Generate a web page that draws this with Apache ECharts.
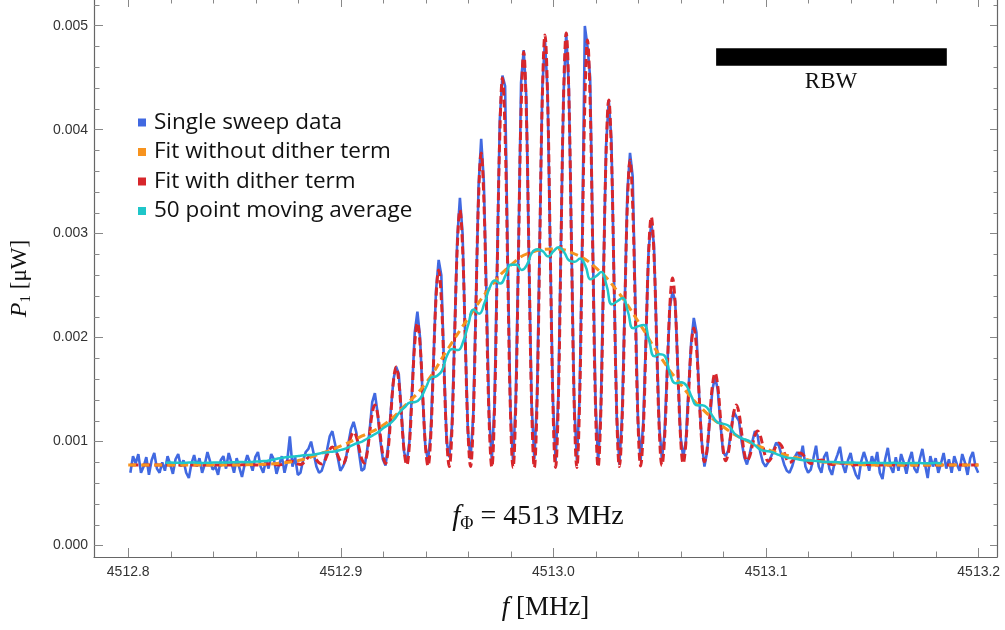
<!DOCTYPE html>
<html><head><meta charset="utf-8">
<script src="https://cdn.jsdelivr.net/npm/echarts@6/dist/echarts.min.js"></script>
<style>html,body{margin:0;padding:0;background:#fff}#c{width:1005px;height:630px}</style>
</head><body><div id="c"></div>
<script>
// all power values below are in units of 1e-6 µW
const UNIT = 1e-6;

// single sweep: uniform frequency sweep
const sweepStart = 4512.801, sweepStep = 0.00125;
const sweepData = [
700,860,790,880,700,760,850,680,
820,890,740,700,800,720,860,780,
690,830,880,760,820,700,650,790,
870,760,840,700,780,900,810,730,
760,680,820,860,740,890,800,700,
840,750,660,780,870,800,720,850,
900,760,700,820,740,880,830,690,
780,860,700,810,1050,760,850,680,
700,820,900,930,1000,880,760,700,
720,800,920,1050,1100,980,850,720,
760,820,980,1120,1190,1090,900,720,
740,900,1100,1380,1465,1280,1020,830,
770,960,1300,1600,1720,1650,1280,900,
800,1000,1500,2050,2249,2000,1420,950,
820,1080,1750,2450,2747,2600,1750,1000,
850,1150,2050,2950,3343,3000,2000,1100,
830,1250,2300,3450,3911,3500,2400,1250,
820,1350,2700,4100,4520,4420,2750,1300,
800,1400,2800,4450,4766,4300,2700,1350,
830,1400,2900,4400,4862,4350,2800,1400,
810,1420,2900,4350,4930,4400,2850,1380,
820,1400,2900,4997,4800,4500,2900,1400,
800,1300,2600,3850,4285,3900,2550,1250,
780,1250,2300,3400,3776,3550,2350,1200,
820,1200,2000,2850,3101,2900,2000,1150,
830,1080,1700,2300,2442,2350,1700,1050,
850,1000,1500,1950,2189,2050,1450,1000,
760,900,1200,1500,1620,1500,1180,900,
860,920,1100,1288,1240,1200,1000,850,
780,880,1000,1100,1060,900,800,760,
800,850,920,990,960,870,780,720,
700,760,850,900,830,960,760,700,
730,840,960,760,700,850,900,740,
680,800,870,950,780,700,820,890,
760,680,640,810,900,820,720,860,
780,900,700,640,830,940,760,700,
850,720,880,800,690,820,900,740,
700,830,930,780,650,860,760,840,
700,790,890,740,830,700,860,780,
720,880,800,680,840,900,760,700
];

// fit with dither term, same frequency grid as the sweep
const fitDitherData = [
775,775,775,775,775,775,775,775,
775,775,775,775,775,775,775,775,
775,775,775,775,775,775,775,775,
775,775,775,775,775,775,775,775,
775,775,775,775,775,775,775,775,
775,775,777,778,778,778,777,775,
775,776,780,784,785,784,780,776,
775,781,795,808,814,809,797,785,
780,792,821,850,862,851,824,796,
785,809,867,924,948,925,869,813,
790,834,941,1048,1092,1049,944,838,
795,876,1074,1271,1352,1270,1071,872,
790,925,1254,1583,1718,1580,1247,913,
775,974,1458,1942,2141,1940,1453,966,
765,1040,1708,2375,2650,2374,1705,1036,
760,1120,1994,2867,3227,2867,1994,1120,
760,1200,2268,3336,3776,3335,2266,1196,
755,1301,2626,3950,4496,3949,2623,1297,
750,1334,2749,4163,4747,4163,2749,1334,
750,1358,2831,4303,4911,4303,2831,1358,
750,1360,2840,4320,4930,4320,2840,1360,
750,1350,2806,4262,4862,4262,2809,1355,
755,1270,2520,3770,4285,3770,2523,1275,
760,1190,2234,3277,3707,3277,2236,1195,
765,1115,1963,2810,3160,2811,1965,1119,
770,1033,1672,2310,2573,2313,1682,1050,
790,980,1441,1902,2092,1904,1449,993,
805,930,1233,1535,1660,1537,1238,938,
815,893,1084,1274,1352,1274,1084,893,
815,857,959,1060,1102,1059,956,853,
810,836,899,961,987,960,894,827,
800,813,846,878,891,876,841,805,
790,795,807,818,823,817,802,786,
780,782,787,792,794,791,785,778,
775,776,778,779,780,779,778,776,
775,775,775,775,775,775,775,775,
775,775,775,775,775,775,775,775,
775,775,775,775,775,775,775,775,
775,775,775,775,775,775,775,775,
775,775,775,775,775,775,775,775
];

// fit without dither term
const fitNoDitherStart = 4512.80, fitNoDitherStep = 0.01;
const fitNoDitherData = [
775,775,775,775,775,775,780,790,818,881,
958,1054,1160,1343,1564,1881,2189,2477,2698,2823,
2852,2804,2670,2448,2150,1824,1545,1314,1141,1016,
929,867,823,799,785,775,775,775,775,775,775
];

// 50 point moving average
const avgStart = 4512.8175, avgStep = 0.0025;
const movingAvgData = [
797,798,796,795,797,799,797,795,796,799,
800,798,799,802,804,802,803,808,812,814,
822,835,845,851,856,862,868,870,875,886,
895,901,908,920,935,960,985,1000,1030,1060,
1090,1130,1165,1210,1280,1330,1375,1380,1420,1520,
1615,1630,1680,1830,1890,1880,1960,2130,2270,2230,
2330,2480,2550,2520,2600,2700,2700,2650,2700,2820,
2850,2830,2780,2830,2870,2820,2740,2730,2760,2690,
2560,2590,2630,2500,2320,2350,2380,2250,2090,2110,
2120,1970,1820,1840,1820,1640,1560,1570,1540,1430,
1350,1350,1320,1240,1180,1170,1150,1080,1040,1020,
1000,960,920,910,900,880,860,845,840,830,
820,818,815,810,806,804,803,800,798,799,
797,795,796,797,795,793,794,796,794,792,
793,795,793,791,792,794,792
];

// RBW bar (frequency span, level in µW)
const rbwSpan = [4513.0765, 4513.185];
const rbwLevel = 0.004699;

const xMajorTicks = [4512.8, 4512.9, 4513.0, 4513.1, 4513.2];
const xMinorTicks = [4512.82,4512.84,4512.86,4512.88,4512.92,4512.94,4512.96,4512.98,
                     4513.02,4513.04,4513.06,4513.08,4513.12,4513.14,4513.16,4513.18];
const yMajorTicks = [0, 0.001, 0.002, 0.003, 0.004, 0.005];
const yMinorTicks = [0.0002,0.0004,0.0006,0.0008,0.0012,0.0014,0.0016,0.0018,
                     0.0022,0.0024,0.0026,0.0028,0.0032,0.0034,0.0036,0.0038,
                     0.0042,0.0044,0.0046,0.0048,0.0052];
const seriesNames = ['Single sweep data','Fit without dither term','Fit with dither term','50 point moving average'];
const seriesColors = ['#4169e1','#f7931e','#d7262b','#1fc6c9'];

const xMin = 4512.7839, xMax = 4513.2086, yMin = -0.00011, yMax = 0.0052468;

function toPairs(arr, start, step) {
  return arr.map((v, i) => [+(start + i * step).toFixed(5), v * UNIT]);
}

const tickLabelStyle = {fontFamily: 'Liberation Sans, Arial, sans-serif', fontSize: 14, color: '#333'};

function xAx(pos, ticks, len, label, line) {
  return {
    type: 'value', position: pos, min: xMin, max: xMax,
    axisLine: {show: line, onZero: false, lineStyle: {color: '#666', width: 1.2}},
    axisTick: {show: true, inside: true, length: len, customValues: ticks, lineStyle: {color: '#888', width: 1}},
    axisLabel: Object.assign({show: label, customValues: ticks, margin: 8,
      formatter: v => (+v).toFixed(1)}, tickLabelStyle),
    splitLine: {show: false}
  };
}
function yAx(pos, ticks, len, label, line) {
  return {
    type: 'value', position: pos, min: yMin, max: yMax,
    axisLine: {show: line, onZero: false, lineStyle: {color: '#666', width: 1.2}},
    axisTick: {show: true, inside: true, length: len, customValues: ticks, lineStyle: {color: '#888', width: 1}},
    axisLabel: Object.assign({show: label, customValues: ticks, margin: 6,
      formatter: v => (+v).toFixed(3)}, tickLabelStyle),
    splitLine: {show: false}
  };
}

const xAxes = [
  xAx('bottom', xMajorTicks, 9, true, true),
  xAx('bottom', xMinorTicks, 5.5, false, false),
  xAx('top', xMajorTicks, 7, false, false),
  xAx('top', xMinorTicks, 3.5, false, false)
];
xAxes[0].name = '{i|f} [MHz]';
xAxes[0].nameLocation = 'middle';
xAxes[0].nameGap = 37;
xAxes[0].nameTextStyle = {fontFamily: 'Liberation Serif, serif', fontSize: 27, color: '#111',
  rich: {i: {fontStyle: 'italic', fontFamily: 'Liberation Serif, serif', fontSize: 27, color: '#111'}}};

const yAxes = [
  yAx('left', yMajorTicks, 9, true, true),
  yAx('left', yMinorTicks, 5.5, false, false),
  yAx('right', yMajorTicks, 7, false, true),
  yAx('right', yMinorTicks, 3.5, false, false)
];
yAxes[0].name = '{p|P}{s|1}{u| [μW]}';
yAxes[0].nameLocation = 'middle';
yAxes[0].nameGap = 60;
yAxes[0].nameRotate = 90;
yAxes[0].nameTextStyle = {fontFamily: 'Liberation Serif, serif', fontSize: 23, color: '#111',
  rich: {
    p: {fontStyle: 'italic', fontFamily: 'Liberation Serif, serif', fontSize: 24, lineHeight: 28, verticalAlign: 'middle', color: '#111'},
    s: {fontFamily: 'Liberation Serif, serif', fontSize: 15, lineHeight: 15, verticalAlign: 'bottom', color: '#111'},
    u: {fontFamily: 'Liberation Serif, serif', fontSize: 23, lineHeight: 28, verticalAlign: 'middle', color: '#111'}
  }};

function lineSeries(name, data, color, width, dash, z, smooth) {
  return {
    name: name, type: 'line', data: data, xAxisIndex: 0, yAxisIndex: 0,
    showSymbol: false, symbol: 'none', smooth: smooth, z: z, silent: true,
    itemStyle: {color: color},
    lineStyle: {color: color, width: width, type: dash || 'solid', cap: 'butt'}
  };
}

const series = [
  lineSeries(seriesNames[0], toPairs(sweepData, sweepStart, sweepStep), seriesColors[0], 2.6, null, 2, false),
  lineSeries(seriesNames[2], toPairs(fitDitherData, sweepStart, sweepStep), seriesColors[2], 3, [8, 4], 3, 0.4),
  lineSeries(seriesNames[1], toPairs(fitNoDitherData, fitNoDitherStart, fitNoDitherStep), seriesColors[1], 3, [8, 5], 4, 0.5),
  lineSeries(seriesNames[3], toPairs(movingAvgData, avgStart, avgStep), seriesColors[3], 2.5, null, 5, 0.5),
  {
    name: 'RBW', type: 'line', xAxisIndex: 0, yAxisIndex: 0, silent: true, z: 6,
    data: [[rbwSpan[0], rbwLevel], [rbwSpan[1], rbwLevel]],
    showSymbol: false, symbol: 'none',
    lineStyle: {color: '#000', width: 17.5, cap: 'butt'}
  }
];

const chart = echarts.init(document.getElementById('c'), null, {renderer: 'canvas'});
chart.setOption({
  animation: false,
  backgroundColor: '#fff',
  grid: {left: 93.5, right: 8, top: 0, bottom: 73, containLabel: false},
  xAxis: xAxes,
  yAxis: yAxes,
  legend: {
    data: seriesNames, orient: 'vertical', left: 133, top: 106,
    icon: 'rect', itemWidth: 8, itemHeight: 8, itemGap: 6.5,
    itemStyle: {borderWidth: 0},
    selectedMode: false,
    textStyle: {fontFamily: 'Open Sans, Lato, sans-serif', fontSize: 22.5, color: '#111', padding: [0, 0, 0, 3]}
  },
  graphic: [
    {type: 'text', x: 538, y: 517, silent: true,
     style: {text: '{i|f}{s|Φ}{n| = 4513 MHz}', align: 'center', verticalAlign: 'middle',
       rich: {
         i: {fontStyle: 'italic', fontFamily: 'Liberation Serif, serif', fontSize: 29, lineHeight: 32, verticalAlign: 'middle', fill: '#111'},
         s: {fontFamily: 'Liberation Serif, serif', fontSize: 18, lineHeight: 18, verticalAlign: 'bottom', fill: '#111'},
         n: {fontFamily: 'Liberation Serif, serif', fontSize: 28, lineHeight: 32, verticalAlign: 'middle', fill: '#111'}
       }}},
    {type: 'text', x: 831, y: 82, silent: true,
     style: {text: 'RBW', align: 'center', verticalAlign: 'middle',
       font: '23px "Liberation Serif", serif', fill: '#111'}}
  ],
  series: series
});
</script></body></html>
